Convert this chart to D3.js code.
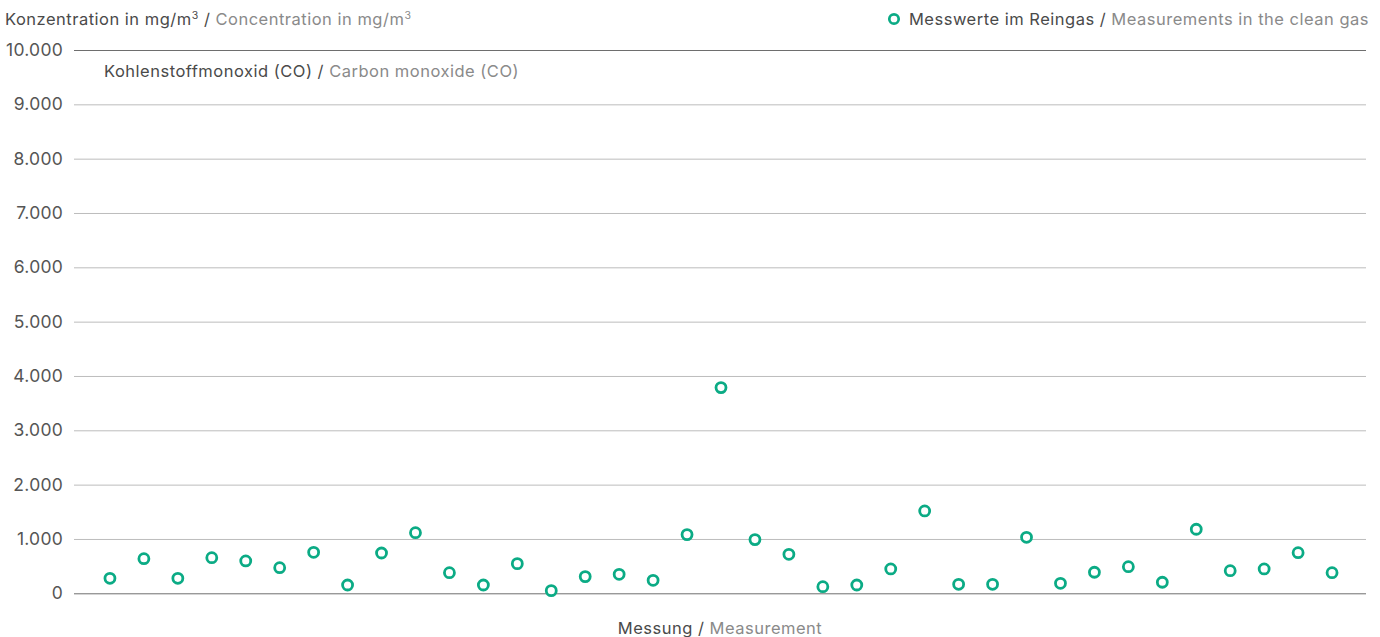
<!DOCTYPE html>
<html>
<head>
<meta charset="utf-8">
<script src="https://cdn.jsdelivr.net/npm/d3@7"></script>
<style>
  html, body { margin: 0; padding: 0; background: #fff; }
  svg { display: block; font-family: Inter, "Noto Sans", sans-serif; }
</style>
</head>
<body>
<svg id="chart" width="1380" height="637"></svg>
<script>
// CO concentration in the clean gas, one value per measurement (mg/m³)
const measurements = d3.range(1, 38);
const coValues = [
  276, 637, 276, 656, 595, 472, 755, 153, 742, 1116,
  380, 153, 546, 49, 307, 350, 239, 1080, 3786, 988,
  718, 122, 153, 448, 1516, 166, 166, 1031, 184, 387,
  490, 203, 1179, 416, 448, 748, 380
];
const yTicks = [0, 1000, 2000, 3000, 4000, 5000, 6000, 7000, 8000, 9000, 10000];
const yTickLabels = ["0", "1.000", "2.000", "3.000", "4.000", "5.000", "6.000", "7.000", "8.000", "9.000", "10.000"];

const svg = d3.select("#chart");
const green = "#0bab85";
const dark = "#4a4a4a";
const light = "#8a8a8a";
const textSize = 16.5;
const textSpacing = 0.5;

const x = d3.scaleLinear().domain([0, 38]).range([76, 1366]);
const y = d3.scaleLinear().domain([0, 10000]).range([593.3, 50]);

// Horizontal grid with right-aligned tick labels
const yAxis = d3.axisLeft(y)
  .tickValues(yTicks)
  .tickSize(-(1366 - 74))
  .tickPadding(11)
  .tickFormat((d, i) => yTickLabels[i]);

const gy = svg.append("g")
  .attr("transform", "translate(74,0)")
  .call(yAxis);
gy.select(".domain").remove();
gy.selectAll(".tick line")
  .attr("stroke", d => (d === 0 || d === 10000) ? "#6e6e6e" : "#bdbdbd")
  .attr("stroke-width", 1);
gy.selectAll(".tick text")
  .attr("fill", "#555")
  .attr("font-size", 17.5)
  .attr("letter-spacing", 0.25)
  .attr("font-family", "Inter, 'Noto Sans', sans-serif");

// Builds a bilingual label; "³" is drawn as a small raised figure
function bilingual(xPos, yPos, de, en, anchor) {
  const t = svg.append("text")
    .attr("x", xPos).attr("y", yPos)
    .attr("text-anchor", anchor || "start")
    .attr("font-size", textSize)
    .attr("letter-spacing", textSpacing);
  let shift = 0;
  [[de + " / ", dark], [en, light]].forEach(([str, fill]) => {
    const parts = str.split("³");
    parts.forEach((p, i) => {
      if (p.length) {
        t.append("tspan").attr("fill", fill).attr("dy", shift).text(p);
        shift = 0;
      }
      if (i < parts.length - 1) {
        t.append("tspan").attr("fill", fill)
          .attr("font-size", 10.5).attr("dy", -6).text("3");
        shift = 6;
      }
    });
  });
  return t;
}

// Headline for the value axis
bilingual(5, 25, "Konzentration in mg/m³", "Concentration in mg/m³");

// Substance label
bilingual(104, 77, "Kohlenstoffmonoxid (CO)", "Carbon monoxide (CO)");

// Legend
svg.append("circle")
  .attr("cx", 894).attr("cy", 19).attr("r", 4.7)
  .attr("fill", "none").attr("stroke", green).attr("stroke-width", 2.7);
bilingual(1369, 25, "Messwerte im Reingas", "Measurements in the clean gas", "end");

// X axis caption
bilingual(720, 634, "Messung", "Measurement", "middle");

// Measurement points
svg.append("g")
  .selectAll("circle")
  .data(coValues)
  .join("circle")
  .attr("cx", (d, i) => x(measurements[i]))
  .attr("cy", d => y(d))
  .attr("r", 5)
  .attr("fill", "#fff")
  .attr("stroke", green)
  .attr("stroke-width", 2.8);
</script>
</body>
</html>
